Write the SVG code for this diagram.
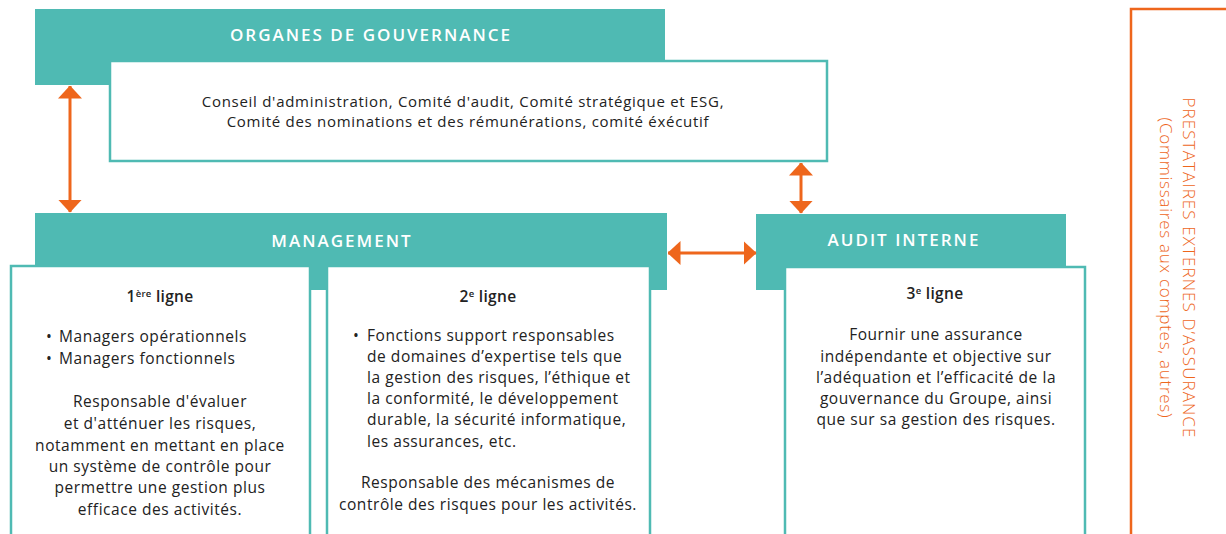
<svg xmlns="http://www.w3.org/2000/svg" width="1226" height="534" viewBox="0 0 1226 534">
<defs>
<style>
.hdr{fill:#4FBAB3}
.box{fill:#fff;stroke:#4FBAB3;stroke-width:2.5}
.ht{font-family:"Open Sans",sans-serif;font-weight:600;font-size:17px;fill:#fff;letter-spacing:2px;text-anchor:middle}
.t{font-family:"Open Sans",sans-serif;font-size:15.5px;letter-spacing:0.55px;fill:#222}
.o{font-size:15px;letter-spacing:0.72px}
.c{text-anchor:middle}
.b{font-weight:600;letter-spacing:0.3px}
.sup{font-size:9.5px}
.arr{stroke:#EE661C;stroke-width:3;fill:none}
.ext{fill:#fff;stroke:#EE661C;stroke-width:2.5}
.et{font-family:"Open Sans",sans-serif;font-weight:300;font-size:17px;letter-spacing:1.1px;fill:#EE661C;text-anchor:middle}
.et2{letter-spacing:0.75px}
</style>
<marker id="ah" viewBox="0 0 13 24" refX="12.5" refY="12" markerWidth="13" markerHeight="24" markerUnits="userSpaceOnUse" orient="auto-start-reverse">
<path d="M0,0 L13,12 L0,24 Z" fill="#EE661C"/>
</marker>
</defs>

<g id="organes">
<rect class="hdr" x="35" y="9" width="630" height="76"/>
<rect class="box" x="110" y="61" width="717" height="100"/>
<text class="ht" x="371" y="41">ORGANES DE GOUVERNANCE</text>
<text class="t o c" x="463" y="107">Conseil d'administration, Comité d'audit, Comité stratégique et ESG,</text>
<text class="t o c" x="468" y="127">Comité des nominations et des rémunérations, comité éxécutif</text>
</g>

<g id="management">
<rect class="hdr" x="35" y="213" width="632" height="77"/>
<text class="ht" x="342" y="247">MANAGEMENT</text>
</g>

<g id="ligne1">
<rect class="box" x="11" y="266" width="299" height="280"/>
<text class="t b c" x="160" y="302">1<tspan class="sup" dy="-5">ère</tspan><tspan dy="5"> ligne</tspan></text>
<text class="t" x="46" y="342">•</text>
<text class="t" x="59" y="342">Managers opérationnels</text>
<text class="t" x="46" y="364">•</text>
<text class="t" x="59" y="364">Managers fonctionnels</text>
<text class="t c" x="160" y="407">Responsable d'évaluer</text>
<text class="t c" x="160" y="429">et d'atténuer les risques,</text>
<text class="t c" x="160" y="451">notamment en mettant en place</text>
<text class="t c" x="160" y="472">un système de contrôle pour</text>
<text class="t c" x="160" y="493">permettre une gestion plus</text>
<text class="t c" x="160" y="515">efficace des activités.</text>
</g>

<g id="ligne2">
<rect class="box" x="327" y="266" width="323" height="280"/>
<text class="t b c" x="488" y="302">2<tspan class="sup" dy="-5">e</tspan><tspan dy="5"> ligne</tspan></text>
<text class="t" x="353" y="341">•</text>
<text class="t" x="367" y="341">Fonctions support responsables</text>
<text class="t" x="367" y="362">de domaines d’expertise tels que</text>
<text class="t" x="367" y="383">la gestion des risques, l’éthique et</text>
<text class="t" x="367" y="404">la conformité, le développement</text>
<text class="t" x="367" y="425">durable, la sécurité informatique,</text>
<text class="t" x="367" y="447">les assurances, etc.</text>
<text class="t c" x="488" y="488">Responsable des mécanismes de</text>
<text class="t c" x="488" y="510">contrôle des risques pour les activités.</text>
</g>

<g id="audit">
<rect class="hdr" x="756" y="214" width="310" height="76"/>
<rect class="box" x="785" y="267" width="300" height="280"/>
<text class="ht" x="904" y="246">AUDIT INTERNE</text>
<text class="t b c" x="935" y="299">3<tspan class="sup" dy="-5">e</tspan><tspan dy="5"> ligne</tspan></text>
<text class="t c" x="936" y="340">Fournir une assurance</text>
<text class="t c" x="936" y="362">indépendante et objective sur</text>
<text class="t c" x="936" y="383">l’adéquation et l’efficacité de la</text>
<text class="t c" x="936" y="404">gouvernance du Groupe, ainsi</text>
<text class="t c" x="936" y="425">que sur sa gestion des risques.</text>
</g>

<g id="externes">
<rect class="ext" x="1131" y="9" width="110" height="540"/>
<g transform="translate(1183,268) rotate(90)">
<text class="et" x="0" y="0">PRESTATAIRES EXTERNES D’ASSURANCE</text>
<text class="et et2" x="0" y="23">(Commissaires aux comptes, autres)</text>
</g>
</g>

<g id="connectors">
<line class="arr" x1="70" y1="86" x2="70" y2="212" marker-start="url(#ah)" marker-end="url(#ah)"/>
<line class="arr" x1="801" y1="163" x2="801" y2="213" marker-start="url(#ah)" marker-end="url(#ah)"/>
<line class="arr" x1="668" y1="253" x2="756" y2="253" marker-start="url(#ah)" marker-end="url(#ah)"/>
</g>
</svg>
